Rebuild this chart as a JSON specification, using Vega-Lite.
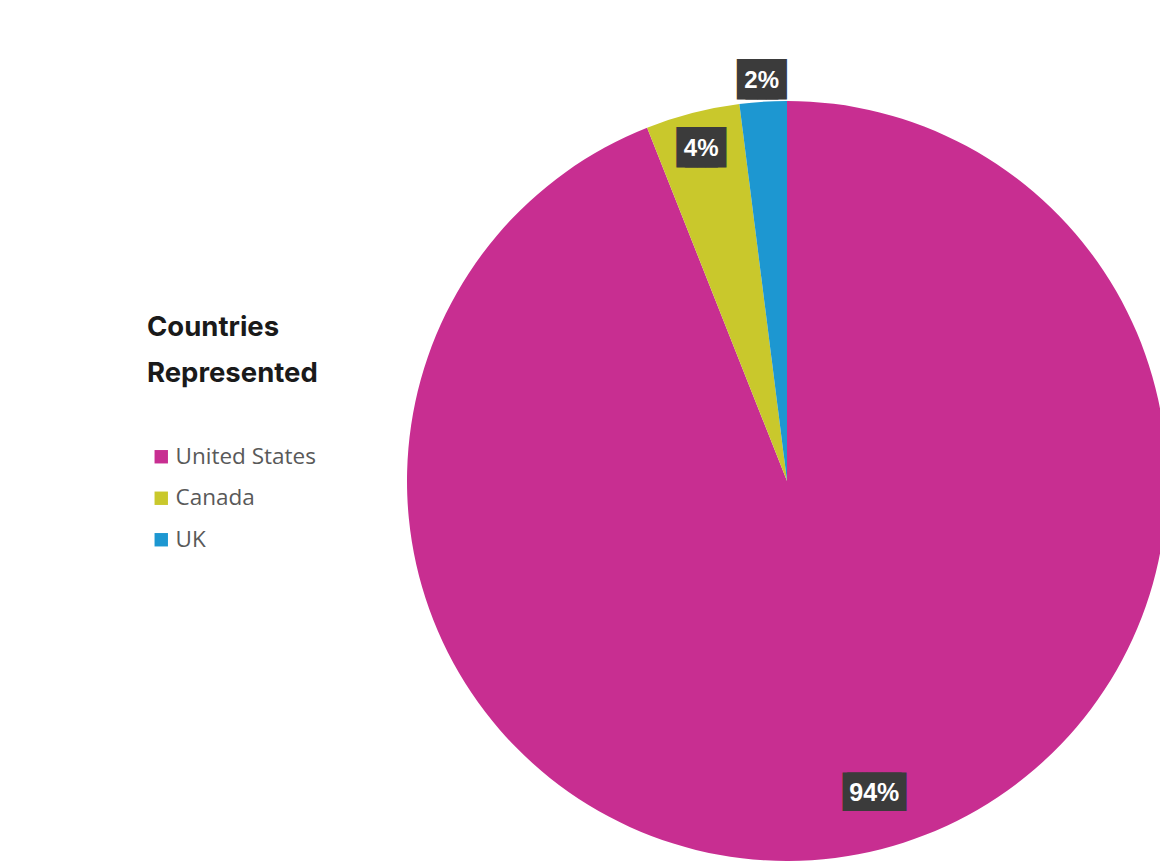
{
  "$schema": "https://vega.github.io/schema/vega-lite/v6.json",
  "width": 700,
  "height": 760,
  "autosize": {"type": "none"},
  "padding": {"left": 437, "top": 101, "right": 23, "bottom": 5},
  "background": "white",
  "config": {"view": {"stroke": null}},
  "data": {
    "values": [
      {"country": "United States", "value": 94, "label": "94%"},
      {"country": "Canada", "value": 4, "label": "4%"},
      {"country": "UK", "value": 2, "label": "2%"}
    ]
  },
  "encoding": {
    "theta": {"field": "value", "type": "quantitative", "stack": true},
    "order": {"field": "value", "type": "quantitative", "sort": "descending"}
  },
  "layer": [
    {
      "mark": {"type": "arc", "outerRadius": 380},
      "encoding": {
        "color": {
          "field": "country",
          "type": "nominal",
          "scale": {
            "domain": ["United States", "Canada", "UK"],
            "range": ["#C82E91", "#C9C82C", "#1D97D1"]
          },
          "legend": {
            "title": ["Countries", "Represented"],
            "orient": "none",
            "legendX": -290,
            "legendY": 213,
            "titleFont": "Inter",
            "titleFontSize": 27.5,
            "titleFontWeight": "bold",
            "titleColor": "#1a1a1a",
            "titleLineHeight": 46,
            "titlePadding": 58,
            "labelFont": "Open Sans",
            "labelFontSize": 22.5,
            "labelColor": "#595959",
            "symbolType": "square",
            "symbolSize": 180,
            "symbolStrokeWidth": 0,
            "symbolOpacity": 1,
            "symbolOffset": 3,
            "rowPadding": 18.5,
            "labelOffset": 3
          }
        }
      }
    },
    {
      "mark": {"type": "text", "radius": 316.6, "dx": 25.7, "dy": 1, "font": "DejaVu Sans Mono", "fontSize": 32.5, "color": "#3b3b3b", "baseline": "middle", "align": "center"},
      "encoding": {"text": {"condition": {"test": "datum.country === 'United States'", "value": "███"}, "value": ""}}
    },
    {
      "mark": {"type": "text", "radius": 316.6, "dx": 30.3, "dy": 1, "font": "DejaVu Sans Mono", "fontSize": 32.5, "color": "#3b3b3b", "baseline": "middle", "align": "center"},
      "encoding": {"text": {"condition": {"test": "datum.country === 'United States'", "value": "███"}, "value": ""}}
    },
    {
      "mark": {"type": "text", "radius": 345, "dx": -4.2, "dy": 2.5, "font": "DejaVu Sans Mono", "fontSize": 34, "color": "#3b3b3b", "baseline": "middle", "align": "center"},
      "encoding": {"text": {"condition": {"test": "datum.country === 'Canada'", "value": "██"}, "value": ""}}
    },
    {
      "mark": {"type": "text", "radius": 345, "dx": 4.2, "dy": 2.5, "font": "DejaVu Sans Mono", "fontSize": 34, "color": "#3b3b3b", "baseline": "middle", "align": "center"},
      "encoding": {"text": {"condition": {"test": "datum.country === 'Canada'", "value": "██"}, "value": ""}}
    },
    {
      "mark": {"type": "text", "radius": 403, "dx": -4.2, "dy": 2.5, "font": "DejaVu Sans Mono", "fontSize": 34, "color": "#3b3b3b", "baseline": "middle", "align": "center"},
      "encoding": {"text": {"condition": {"test": "datum.country === 'UK'", "value": "██"}, "value": ""}}
    },
    {
      "mark": {"type": "text", "radius": 403, "dx": 4.2, "dy": 2.5, "font": "DejaVu Sans Mono", "fontSize": 34, "color": "#3b3b3b", "baseline": "middle", "align": "center"},
      "encoding": {"text": {"condition": {"test": "datum.country === 'UK'", "value": "██"}, "value": ""}}
    },
    {
      "mark": {"type": "text", "radius": 316.6, "dx": 28, "dy": 1.5, "font": "Liberation Sans", "fontWeight": "bold", "fontSize": 25, "color": "white", "baseline": "middle", "align": "center"},
      "encoding": {"text": {"condition": {"test": "datum.country === 'United States'", "field": "label"}, "value": ""}}
    },
    {
      "mark": {"type": "text", "radius": 345, "dy": 2.5, "font": "Liberation Sans", "fontWeight": "bold", "fontSize": 24, "color": "white", "baseline": "middle", "align": "center"},
      "encoding": {"text": {"condition": {"test": "datum.country === 'Canada'", "field": "label"}, "value": ""}}
    },
    {
      "mark": {"type": "text", "radius": 403, "dy": 2.5, "font": "Liberation Sans", "fontWeight": "bold", "fontSize": 24, "color": "white", "baseline": "middle", "align": "center"},
      "encoding": {"text": {"condition": {"test": "datum.country === 'UK'", "field": "label"}, "value": ""}}
    }
  ]
}
